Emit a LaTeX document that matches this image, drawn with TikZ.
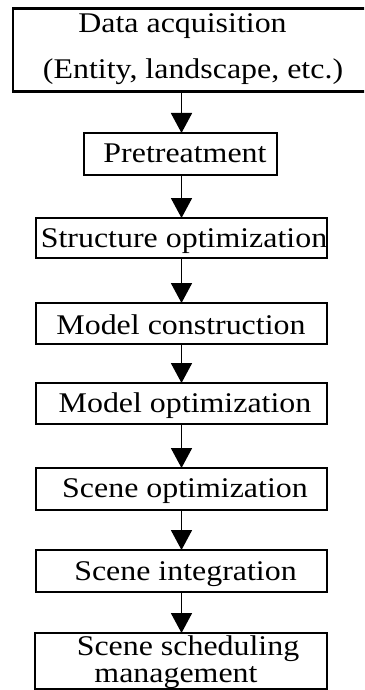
\documentclass[tikz,border=0pt]{standalone}
\usepackage{fontspec}
\setmainfont{Liberation Serif}[FakeStretch=1.12]
\usetikzlibrary{arrows.meta}

\begin{document}
\begin{tikzpicture}[x=1pt,y=-1pt,
  stepbox/.style={draw=black,line width=2pt,rectangle,inner sep=0pt,outer sep=0pt,fill=white},
  steptext/.style={anchor=base,inner sep=0pt,font=\fontsize{28.5}{30}\selectfont},
  flow/.style={line width=1.8pt,-{Triangle[length=20pt,width=21pt]}}]
  \useasboundingbox (0,0) rectangle (364,690);
  \clip (0,0) rectangle (364,690);
  \fill[white] (0,0) rectangle (364,690);

  % process boxes (centre, width, height)
  \node[stepbox,line width=2.5pt,minimum width=377pt,minimum height=83pt] (b1) at (201.5,50) {};
  \node[stepbox,minimum width=193pt,minimum height=42pt] (b2) at (180.5,154) {};
  \node[stepbox,minimum width=291pt,minimum height=40pt] (b3) at (181.5,238) {};
  \node[stepbox,minimum width=291pt,minimum height=41pt] (b4) at (181.5,323.5) {};
  \node[stepbox,minimum width=291pt,minimum height=41pt] (b5) at (181.5,403.5) {};
  \node[stepbox,minimum width=291pt,minimum height=42pt] (b6) at (181.5,489) {};
  \node[stepbox,minimum width=291pt,minimum height=42pt] (b7) at (181.5,571) {};
  \node[stepbox,minimum width=292pt,minimum height=56pt] (b8) at (181,661) {};

  % labels
  \node[steptext] (t1a) at (182.5,33) {Data acquisition};
  \node[steptext] (t1b) at (193,79) {(Entity, landscape, etc.)};
  \node[steptext] (t2) at (185,162) {Pretreatment};
  \node[steptext] (t3) at (184,247) {Structure optimization};
  \node[steptext] (t4) at (181,334) {Model construction};
  \node[steptext] (t5) at (185,412) {Model optimization};
  \node[steptext] (t6) at (185,497) {Scene optimization};
  \node[steptext] (t7) at (185.5,580) {Scene integration};
  \node[steptext] (t8a) at (188,655) {Scene scheduling};
  \node[steptext] (t8b) at (176,682) {management};

  % connectors
  \coordinate (ax) at (181.5,0);
  \draw[flow] (b1.south -| ax) -- (b2.north -| ax);
  \draw[flow] (b2.south -| ax) -- (b3.north -| ax);
  \draw[flow] (b3.south -| ax) -- (b4.north -| ax);
  \draw[flow] (b4.south -| ax) -- (b5.north -| ax);
  \draw[flow] (b5.south -| ax) -- (b6.north -| ax);
  \draw[flow] (b6.south -| ax) -- (b7.north -| ax);
  \draw[flow] (b7.south -| ax) -- (b8.north -| ax);
\end{tikzpicture}
\end{document}
